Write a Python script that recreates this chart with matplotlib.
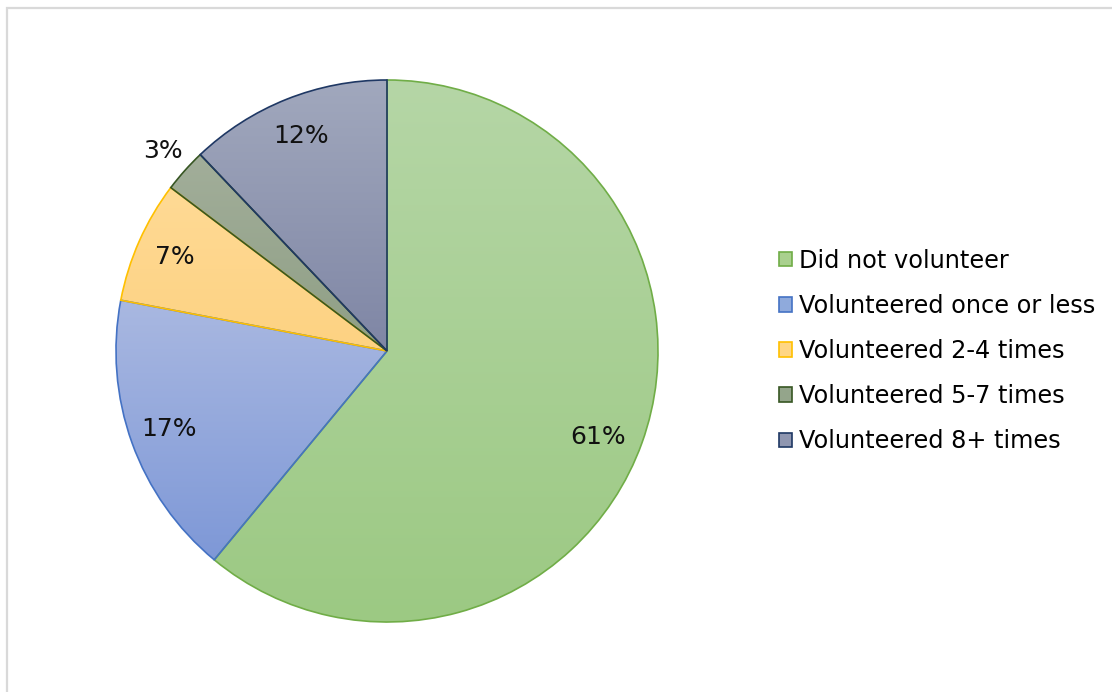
import numpy as np
import matplotlib
matplotlib.use("Agg")
import matplotlib.pyplot as plt
from matplotlib.colors import LinearSegmentedColormap
from matplotlib.patches import Patch, Rectangle

labels = ["Did not volunteer", "Volunteered once or less", "Volunteered 2-4 times",
          "Volunteered 5-7 times", "Volunteered 8+ times"]
values = [61.0, 17.0, 7.3, 2.6, 12.1]
edge_colors = ["#70ad47", "#4472c4", "#ffc000", "#375623", "#1f3864"]
# gradient colours (top, bottom) for every slice
top_colors = ["#b5d6a6", "#a9b8e1", "#ffda95", "#a2ae9a", "#a1a8bd"]
bottom_colors = ["#9cc983", "#7e98d7", "#fdd282", "#8f9f85", "#7f86a5"]
legend_colors = ["#a9d08e", "#8faadc", "#ffd685", "#94a58b", "#8f96b0"]

plt.rcParams['font.family'] = ['DejaVu Sans']

W, H = 1112, 692
fig = plt.figure(figsize=(W / 100, H / 100), dpi=100)

# light grey frame (only top and left edges visible)
fig.add_artist(Rectangle((7 / W, -0.1), 1.2, 1 - 8 / H + 0.1, transform=fig.transFigure,
                         fill=False, edgecolor="#d9d9d9", linewidth=1.6))

cx, cy, r = 387, 351, 271
ax = fig.add_axes([(cx - r) / W, (H - cy - r) / H, 2 * r / W, 2 * r / H])
ax.set_xlim(-1, 1)
ax.set_ylim(-1, 1)
ax.set_aspect("equal")
ax.axis("off")

wedges, texts, autotexts = ax.pie(
    values, startangle=90, counterclock=False, radius=1,
    autopct=lambda p: f"{round(p)}%", pctdistance=0.855,
    wedgeprops=dict(linewidth=1.2), textprops=dict(fontsize=18, color="#111111"))

grad = np.linspace(0, 1, 256).reshape(-1, 1)
for w, ec, c0, c1 in zip(wedges, edge_colors, top_colors, bottom_colors):
    w.set_facecolor("none")
    w.set_edgecolor(ec)
    w.set_zorder(3)
    ext = w.get_path().get_extents()
    cmap = LinearSegmentedColormap.from_list("g", [c0, c1])
    im = ax.imshow(grad, cmap=cmap, aspect="auto", origin="upper",
                   extent=(ext.x0, ext.x1, ext.y0, ext.y1), zorder=2)
    im.set_clip_path(w)

for t in autotexts:
    t.set_zorder(5)

# small slice label sits outside the pie
w = wedges[3]
mid = np.deg2rad((w.theta1 + w.theta2) / 2)
autotexts[3].set_position((1.11 * np.cos(mid), 1.11 * np.sin(mid)))
# biggest slice label sits a little lower than the mid angle
w = wedges[0]
mid = np.deg2rad((w.theta1 + w.theta2) / 2 - 2.5)
autotexts[0].set_position((0.84 * np.cos(mid), 0.84 * np.sin(mid)))

ax.set_xlim(-1, 1)
ax.set_ylim(-1, 1)

handles = [Patch(facecolor=fc, edgecolor=ec, linewidth=1.2)
           for fc, ec in zip(legend_colors, edge_colors)]
fig.legend(handles, labels, loc="center left", bbox_to_anchor=(779 / W, 1 - 351 / H),
           frameon=False, fontsize=17.3, handlelength=0.55, handleheight=0.55,
           handletextpad=0.3, labelspacing=0.88, borderpad=0, borderaxespad=0)

fig.savefig("out.png", dpi=100)
